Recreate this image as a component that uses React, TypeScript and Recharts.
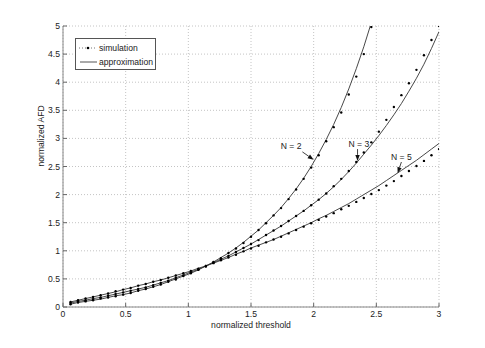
import React from 'react';
import {
  ComposedChart, Line, XAxis, YAxis, CartesianGrid, ReferenceLine, ReferenceDot,
} from 'recharts';

const thresholds = [
  0.06, 0.12, 0.18, 0.24, 0.3, 0.36, 0.42, 0.48, 0.54, 0.6,
  0.66, 0.72, 0.78, 0.84, 0.9, 0.96, 1.02, 1.08, 1.14, 1.2,
  1.26, 1.32, 1.38, 1.44, 1.5, 1.56, 1.62, 1.68, 1.74, 1.8,
  1.86, 1.92, 1.98, 2.04, 2.1, 2.16, 2.22, 2.28, 2.34, 2.4,
  2.46, 2.52, 2.58, 2.64, 2.7, 2.76, 2.82, 2.88, 2.94, 3.0,
];

const approxN2 = [
  0.05, 0.08, 0.10, 0.12, 0.14, 0.17, 0.20, 0.22, 0.25, 0.29,
  0.32, 0.36, 0.40, 0.45, 0.50, 0.55, 0.60, 0.66, 0.73, 0.80,
  0.88, 0.96, 1.05, 1.15, 1.26, 1.37, 1.50, 1.63, 1.77, 1.93,
  2.10, 2.29, 2.50, 2.73, 2.98, 3.25, 3.55, 3.88, 4.24, 4.63,
  5.06, 5.52, null, null, null, null, null, null, null, null,
];
const simN2 = [
  0.05, 0.08, 0.10, 0.12, 0.15, 0.17, 0.19, 0.22, 0.25, 0.29,
  0.32, 0.36, 0.40, 0.45, 0.49, 0.55, 0.60, 0.66, 0.72, 0.80,
  0.87, 0.96, 1.04, 1.14, 1.25, 1.37, 1.49, 1.63, 1.76, 1.92,
  2.09, 2.28, 2.48, 2.70, 2.95, 3.20, 3.46, 3.78, 4.10, 4.50,
  4.98, null, null, null, null, null, null, null, null, null,
];

const approxN3 = [
  0.07, 0.10, 0.12, 0.15, 0.17, 0.20, 0.23, 0.26, 0.29, 0.32,
  0.35, 0.39, 0.43, 0.47, 0.52, 0.57, 0.62, 0.67, 0.73, 0.79,
  0.85, 0.91, 0.98, 1.05, 1.12, 1.20, 1.28, 1.36, 1.44, 1.53,
  1.62, 1.71, 1.81, 1.91, 2.02, 2.14, 2.27, 2.41, 2.56, 2.72,
  2.88, 3.05, 3.23, 3.42, 3.62, 3.84, 4.07, 4.32, 4.60, 4.90,
];
const simN3 = [
  0.07, 0.10, 0.12, 0.14, 0.17, 0.20, 0.23, 0.26, 0.29, 0.32,
  0.35, 0.39, 0.43, 0.47, 0.52, 0.56, 0.61, 0.67, 0.73, 0.79,
  0.85, 0.91, 0.98, 1.05, 1.12, 1.19, 1.28, 1.36, 1.44, 1.53,
  1.62, 1.71, 1.81, 1.91, 2.02, 2.15, 2.28, 2.42, 2.58, 2.75,
  2.93, 3.12, 3.33, 3.56, 3.77, 3.98, 4.22, 4.48, 4.75, 5.00,
];

const approxN5 = [
  0.09, 0.12, 0.15, 0.18, 0.21, 0.24, 0.27, 0.31, 0.34, 0.38,
  0.41, 0.45, 0.48, 0.52, 0.56, 0.60, 0.64, 0.69, 0.73, 0.78,
  0.83, 0.88, 0.94, 0.99, 1.05, 1.10, 1.15, 1.20, 1.26, 1.32,
  1.38, 1.44, 1.50, 1.57, 1.63, 1.70, 1.77, 1.84, 1.92, 2.00,
  2.08, 2.16, 2.25, 2.34, 2.43, 2.52, 2.61, 2.71, 2.81, 2.91,
];
const simN5 = [
  0.09, 0.12, 0.15, 0.18, 0.21, 0.24, 0.28, 0.31, 0.34, 0.38,
  0.41, 0.45, 0.48, 0.52, 0.56, 0.60, 0.64, 0.68, 0.73, 0.78,
  0.83, 0.88, 0.93, 0.99, 1.04, 1.09, 1.15, 1.20, 1.25, 1.31,
  1.37, 1.43, 1.49, 1.55, 1.61, 1.67, 1.74, 1.80, 1.87, 1.94,
  2.01, 2.08, 2.16, 2.24, 2.33, 2.42, 2.51, 2.60, 2.70, 2.81,
];

const xTicks = [0, 0.5, 1, 1.5, 2, 2.5, 3];
const yTicks = [0, 0.5, 1, 1.5, 2, 2.5, 3, 3.5, 4, 4.5, 5];

// curve labels: text position and arrow (from -> to), in data units
const curveLabels = [
  { text: 'N = 2', tx: 1.82, ty: 2.86, x1: 1.91, y1: 2.76, x2: 2.0, y2: 2.62 },
  { text: 'N = 3', tx: 2.36, ty: 2.91, x1: 2.35, y1: 2.81, x2: 2.35, y2: 2.6 },
  { text: 'N = 5', tx: 2.7, ty: 2.67, x1: 2.7, y1: 2.58, x2: 2.67, y2: 2.38 },
];

const data = thresholds.map((x, i) => ({
  x,
  a2: approxN2[i], s2: simN2[i],
  a3: approxN3[i], s3: simN3[i],
  a5: approxN5[i], s5: simN5[i],
}));

const FONT = '"Liberation Sans", Arial, Helvetica, sans-serif';
const FS = 8.6;
const TXT = '#222';

const XTick = (props: any) => {
  const { x, y, payload } = props;
  return (
    <g>
      <line x1={x} y1={y} x2={x} y2={y - 4} stroke="#666" />
      <text x={x} y={y + 10} textAnchor="middle" fontSize={FS} fontFamily={FONT} fill={TXT}>
        {payload.value}
      </text>
    </g>
  );
};

const YTick = (props: any) => {
  const { x, y, payload } = props;
  return (
    <g>
      <line x1={x} y1={y} x2={x + 4} y2={y} stroke="#666" />
      <text x={x - 3} y={y + 3} textAnchor="end" fontSize={FS} fontFamily={FONT} fill={TXT}>
        {payload.value}
      </text>
    </g>
  );
};

const Arrow = (props: any) => {
  const { x1, y1, x2, y2 } = props;
  const ang = Math.atan2(y2 - y1, x2 - x1);
  const len = 6;
  const w = 2.2;
  const bx = x2 - len * Math.cos(ang);
  const by = y2 - len * Math.sin(ang);
  const px = -Math.sin(ang) * w;
  const py = Math.cos(ang) * w;
  return (
    <g>
      <line x1={x1} y1={y1} x2={bx} y2={by} stroke="#111" strokeWidth={0.8} />
      <polygon points={`${x2},${y2} ${bx + px},${by + py} ${bx - px},${by - py}`} fill="#111" />
    </g>
  );
};

const LegendBox = () => (
  <div
    style={{
      position: 'absolute', left: 67, top: 30, width: 79, height: 30,
      border: '1px solid #555', background: '#fff', fontFamily: FONT, fontSize: FS, color: TXT,
    }}
  >
    <svg width={79} height={30} style={{ position: 'absolute', left: 0, top: 0 }}>
      <line x1={3} y1={9} x2={21} y2={9} stroke="#777" strokeDasharray="1 2" />
      <circle cx={12} cy={9} r={1.3} fill="#000" />
      <line x1={4} y1={23} x2={21} y2={23} stroke="#555" />
      <text x={23} y={12} fontSize={FS} fontFamily={FONT} fill={TXT}>simulation</text>
      <text x={23} y={26} fontSize={FS} fontFamily={FONT} fill={TXT}>approximation</text>
    </svg>
  </div>
);

export default function App() {
  return (
    <div style={{ position: 'relative', width: 477, height: 340 }}>
      <ComposedChart width={477} height={340} data={data} margin={{ top: 18, right: 46, bottom: 11, left: 25 }}>
        <CartesianGrid stroke="#c4c4c4" strokeDasharray="1 2" />
        <XAxis
          dataKey="x" type="number" domain={[0, 3]} ticks={xTicks} allowDataOverflow
          tickSize={0} tickMargin={0} tick={<XTick />} height={30} stroke="#888"
          label={{ value: 'normalized threshold', position: 'insideBottom', offset: 9, fontSize: FS, fontFamily: FONT, fill: TXT }}
        />
        <YAxis
          type="number" domain={[0, 5]} ticks={yTicks} allowDataOverflow
          tickSize={0} tickMargin={0} tick={<YTick />} width={30} stroke="#888"
          label={{ value: 'normalized AFD', angle: -90, position: 'insideLeft', offset: 8, fontSize: FS, fontFamily: FONT, fill: TXT }}
        />
        <Line dataKey="a2" stroke="#333" strokeWidth={0.9} dot={false} isAnimationActive={false} />
        <Line dataKey="a3" stroke="#333" strokeWidth={0.9} dot={false} isAnimationActive={false} />
        <Line dataKey="a5" stroke="#333" strokeWidth={0.9} dot={false} isAnimationActive={false} />
        <Line dataKey="s2" stroke="none" dot={{ r: 1.2, fill: '#000', stroke: 'none' }} isAnimationActive={false} />
        <Line dataKey="s3" stroke="none" dot={{ r: 1.2, fill: '#000', stroke: 'none' }} isAnimationActive={false} />
        <Line dataKey="s5" stroke="none" dot={{ r: 1.2, fill: '#000', stroke: 'none' }} isAnimationActive={false} />
        {curveLabels.map((c) => (
          <ReferenceLine
            key={`arr-${c.text}`}
            segment={[{ x: c.x1, y: c.y1 }, { x: c.x2, y: c.y2 }]}
            shape={(p: any) => <Arrow {...p} />}
            ifOverflow="visible"
          />
        ))}
        {curveLabels.map((c) => (
          <ReferenceDot
            key={`lbl-${c.text}`}
            x={c.tx} y={c.ty} r={0} fill="none" stroke="none" ifOverflow="visible"
            label={{ value: c.text, position: 'center', fontSize: FS, fontFamily: FONT, fill: TXT }}
          />
        ))}
      </ComposedChart>
      <LegendBox />
    </div>
  );
}
